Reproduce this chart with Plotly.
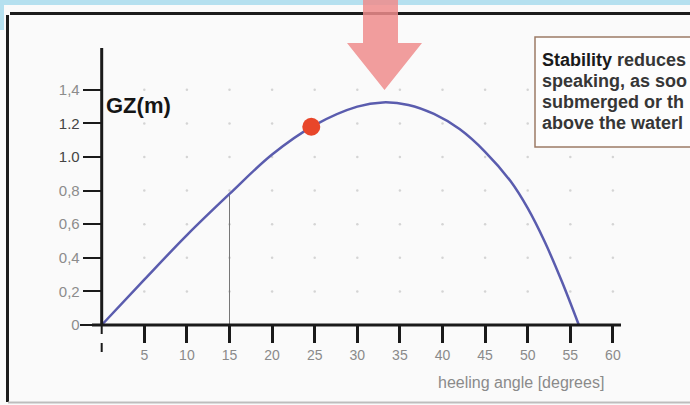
import plotly.graph_objects as go

# ---------------- data ----------------
heel_angle = [0, 5, 10, 15, 20, 25, 30, 33, 36, 39, 42, 45, 48, 50, 52, 54, 56]
gz_values = [0.0, 0.27, 0.535, 0.78, 1.015, 1.19, 1.30, 1.325, 1.31, 1.256, 1.166, 1.031,
             0.855, 0.695, 0.495, 0.26, 0.0]
marker_angle = [24.6]
marker_gz = [1.18]
ref_line_angle = 15
x_tick_vals = [5, 10, 15, 20, 25, 30, 35, 40, 45, 50, 55, 60]
x_tick_text = ["5", "10", "15", "20", "25", "30", "35", "40", "45", "50", "55", "60"]
y_tick_vals = [0, 0.2, 0.4, 0.6, 0.8, 1.0, 1.2, 1.4]
y_tick_text = ["0", "0,2", "0,4", "0,6", "0,8",
               "<span style='color:#444'>1.0</span>",
               "<span style='color:#444'>1.2</span>", "1,4"]
box_lines = ["<span style='color:#1a1a1a'>Stability</span> reduces",
             "speaking, as soo",
             "submerged or th",
             "above the waterl"]

W, H = 690, 405
X0_PX, X_PER_DEG = 101.7, 8.52
Y0_PX, Y_PER_UNIT = 325.0, 168.0
x_range = [-X0_PX / X_PER_DEG, (W - X0_PX) / X_PER_DEG]
y_range = [-(H - Y0_PX) / Y_PER_UNIT, Y0_PX / Y_PER_UNIT]


def px(x):
    return x / W


def py(y):
    return 1 - y / H


fig = go.Figure()

# faint grid dots
gx, gy = [], []
for xv in x_tick_vals:
    for yv in y_tick_vals[1:]:
        gx.append(xv)
        gy.append(yv)
fig.add_trace(go.Scatter(x=gx, y=gy, mode="markers",
                         marker=dict(size=2.5, color="#d4d4d4"),
                         hoverinfo="skip", showlegend=False))

# vertical reference line at 15 degrees
ref_gz = gz_values[heel_angle.index(ref_line_angle)]
fig.add_trace(go.Scatter(x=[ref_line_angle, ref_line_angle], y=[0, ref_gz],
                         mode="lines", line=dict(color="#777777", width=1),
                         hoverinfo="skip", showlegend=False))

# GZ curve
fig.add_trace(go.Scatter(x=heel_angle, y=gz_values, mode="lines",
                         line=dict(color="#5a5cae", width=2.5, shape="spline", smoothing=1.0),
                         showlegend=False))

# red marker
fig.add_trace(go.Scatter(x=marker_angle, y=marker_gz, mode="markers",
                         marker=dict(size=18, color="#e8462a"),
                         showlegend=False))

shapes = []
# page frame
shapes.append(dict(type="rect", xref="paper", yref="paper", x0=0, x1=1, y0=py(5), y1=1,
                   fillcolor="#b5e0ef", line=dict(width=0), layer="below"))
shapes.append(dict(type="rect", xref="paper", yref="paper", x0=0, x1=px(4), y0=py(30), y1=1,
                   fillcolor="#b5e0ef", line=dict(width=0), layer="below"))
shapes.append(dict(type="line", xref="paper", yref="paper", x0=px(10), x1=1, y0=py(13.5), y1=py(13.5),
                   line=dict(color="#1c1c1c", width=3)))
shapes.append(dict(type="line", xref="paper", yref="paper", x0=px(7.5), x1=px(7.5), y0=py(15), y1=py(402),
                   line=dict(color="#1c1c1c", width=3)))
shapes.append(dict(type="line", xref="paper", yref="paper", x0=px(8), x1=1, y0=py(402.5), y1=py(402.5),
                   line=dict(color="#bdbdbd", width=2)))

# axes lines
shapes.append(dict(type="line", xref="x", yref="y", x0=0, x1=0, y0=0, y1=(Y0_PX - 48) / Y_PER_UNIT,
                   line=dict(color="#1a1a1a", width=3)))
shapes.append(dict(type="line", xref="x", yref="y", x0=0, x1=0, y0=0, y1=-(357 - Y0_PX) / Y_PER_UNIT,
                   line=dict(color="#1a1a1a", width=2, dash="dash")))
shapes.append(dict(type="line", xref="x", yref="y", x0=(92 - X0_PX) / X_PER_DEG, x1=(621 - X0_PX) / X_PER_DEG,
                   y0=0, y1=0, line=dict(color="#1a1a1a", width=3)))
shapes.append(dict(type="line", xref="x", yref="y", x0=(80 - X0_PX) / X_PER_DEG, x1=(92 - X0_PX) / X_PER_DEG,
                   y0=0, y1=0, line=dict(color="#1a1a1a", width=2, dash="dot")))

# arrow
ax_l, ax_r = 363, 398
ah_l, ah_r, tip_x = 347, 422, 384.5
head_y, tip_y = 43, 90
path = (f"M {px(ax_l)},{py(0)} L {px(ax_r)},{py(0)} L {px(ax_r)},{py(head_y)} "
        f"L {px(ah_r)},{py(head_y)} L {px(tip_x)},{py(tip_y)} L {px(ah_l)},{py(head_y)} "
        f"L {px(ax_l)},{py(head_y)} Z")
shapes.append(dict(type="path", xref="paper", yref="paper", path=path,
                   fillcolor="rgba(238,140,140,0.85)", line=dict(width=0)))

# text box
shapes.append(dict(type="rect", xref="paper", yref="paper", x0=px(535), x1=px(705), y0=py(147), y1=py(37),
                   fillcolor="#fdfdfd", line=dict(color="#9c7b66", width=1.5)))

annotations = []
for i, t in enumerate(box_lines):
    annotations.append(dict(xref="paper", yref="paper", x=px(540), y=py(60 + 21 * i),
                            xanchor="left", yanchor="middle", showarrow=False, text=f"<b>{t}</b>",
                            font=dict(family="Liberation Sans, Arial", size=18, color="#363636")))
annotations.append(dict(xref="paper", yref="paper", x=px(104), y=py(105), xanchor="left", yanchor="middle",
                        showarrow=False, text="<b>GZ(m)</b>",
                        font=dict(family="Liberation Sans, Arial", size=22, color="#151515")))
annotations.append(dict(xref="paper", yref="paper", x=px(521), y=py(382), xanchor="center", yanchor="middle",
                        showarrow=False, text="heeling angle [degrees]",
                        font=dict(family="Liberation Sans, Arial", size=16, color="#8a8a8a")))

fig.update_layout(
    width=W, height=H,
    margin=dict(l=0, r=0, t=0, b=0),
    paper_bgcolor="#fafafa",
    plot_bgcolor="rgba(0,0,0,0)",
    showlegend=False,
    shapes=shapes,
    annotations=annotations,
    xaxis=dict(range=x_range, domain=[0, 1], anchor="free", position=py(Y0_PX),
               showgrid=False, zeroline=False, showline=False,
               tickmode="array", tickvals=x_tick_vals, ticktext=x_tick_text,
               ticks="outside", ticklen=17, tickwidth=2.5, tickcolor="#1a1a1a",
               tickfont=dict(family="Liberation Sans, Arial", size=14, color="#8a8a8a")),
    yaxis=dict(range=y_range, domain=[0, 1], anchor="free", position=px(X0_PX),
               showgrid=False, zeroline=False, showline=False,
               tickmode="array", tickvals=y_tick_vals, ticktext=y_tick_text,
               ticks="outside", ticklen=19, tickwidth=2, tickcolor="#1a1a1a",
               tickfont=dict(family="Liberation Sans, Arial", size=15, color="#8c8c8c")),
)

fig.write_html("out.html", config={"displayModeBar": False},
               post_script="document.body.style.margin='0';document.body.style.overflow='hidden';")
